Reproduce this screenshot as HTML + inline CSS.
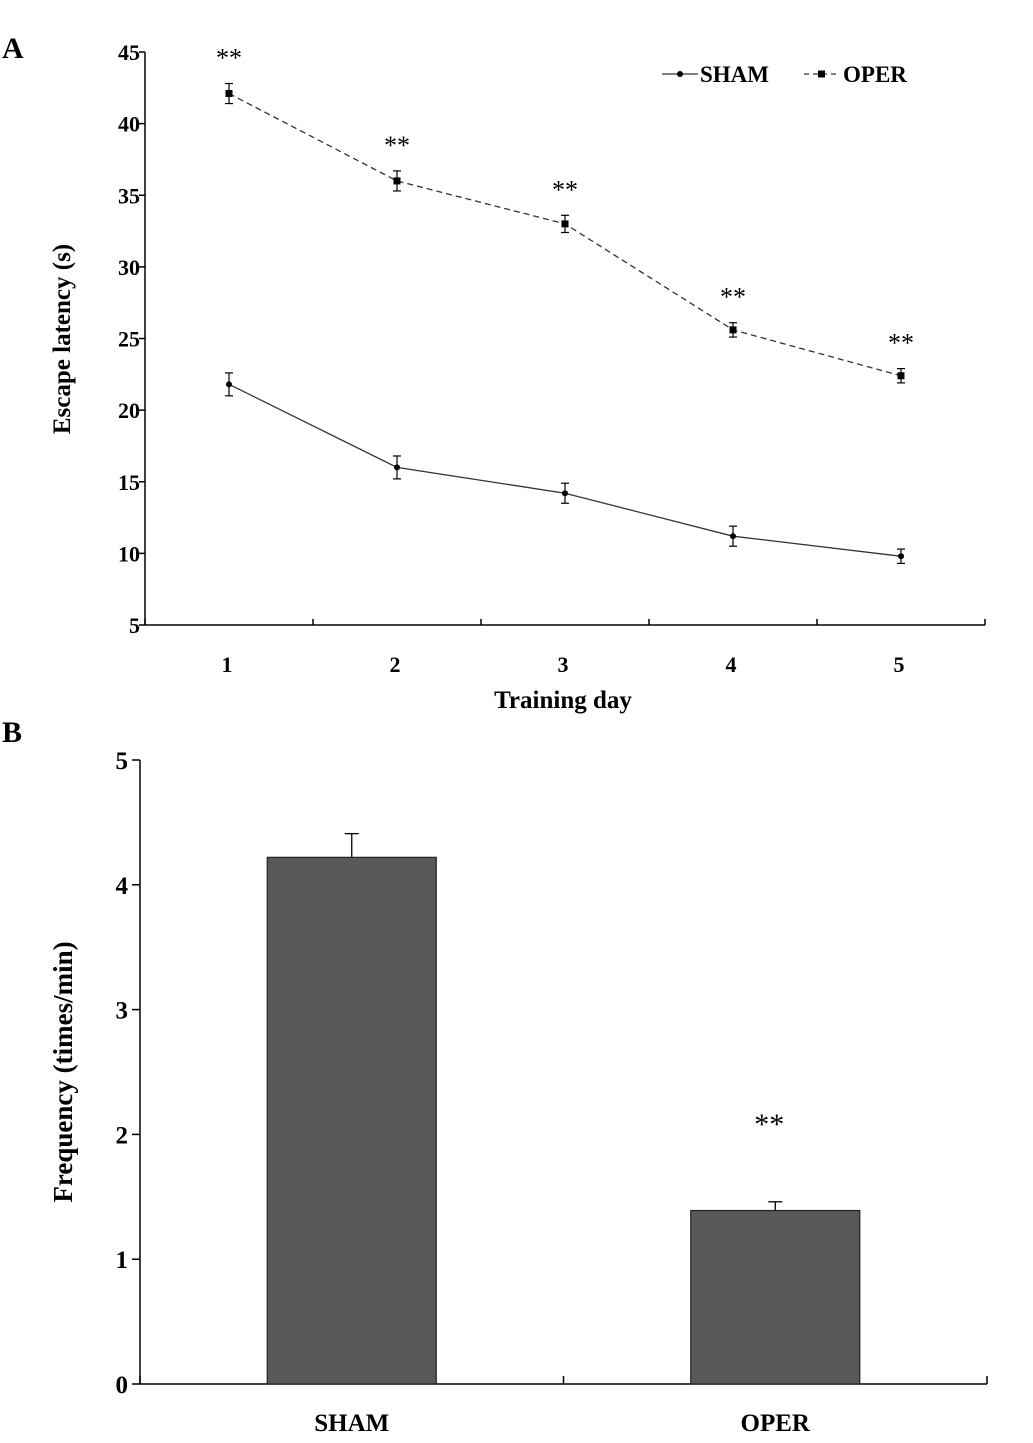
<!DOCTYPE html>
<html><head><meta charset="utf-8"><style>
html,body{margin:0;padding:0;background:#fff;}
svg{display:block;font-family:"Liberation Serif",serif;}
</style></head><body>
<svg id="fig" width="1033" height="1443" viewBox="0 0 1033 1443" xmlns="http://www.w3.org/2000/svg"></svg>
<script>
const days=[1,2,3,4,5];
const shamVals=[21.8,16.0,14.2,11.2,9.8];
const shamErr=[0.8,0.8,0.7,0.7,0.5];
const operVals=[42.1,36.0,33.0,25.6,22.4];
const operErr=[0.7,0.7,0.6,0.5,0.5];
const yTicksA=[5,10,15,20,25,30,35,40,45];
const groups=["SHAM","OPER"];
const freqVals=[4.22,1.39];
const freqErr=[0.19,0.07];
const yTicksB=[0,1,2,3,4,5];

const NS="http://www.w3.org/2000/svg";
const svg=document.getElementById('fig');
function el(tag,attrs,parent,text){const e=document.createElementNS(NS,tag);for(const k in attrs)e.setAttribute(k,attrs[k]);if(text!==undefined)e.textContent=text;(parent||svg).appendChild(e);return e;}

const ax0=145,ax1=985,ay0=625,ay1=52;
const yA=v=>ay0-(v-5)/40*(ay0-ay1);
const xA=i=>ax0+(ax1-ax0)/5*(i+0.5);
let g=el('g',{});


let t=el('text',{x:2,y:58,'font-size':30,'font-weight':'bold'},g,'A');

el('line',{x1:ax0,y1:ay1,x2:ax0,y2:ay0,stroke:'#000','stroke-width':1.5},g);
el('line',{x1:ax0,y1:ay0,x2:ax1,y2:ay0,stroke:'#000','stroke-width':1.5},g);
yTicksA.forEach(v=>{const y=yA(v);el('line',{x1:ax0-6,y1:y,x2:ax0,y2:y,stroke:'#000','stroke-width':1.5},g);
 const tt=el('text',{x:ax0-5,y:y+8,'font-size':22,'font-weight':'bold','text-anchor':'end'},g,v);
 });
for(let i=0;i<=5;i++){const x=ax0+(ax1-ax0)/5*i;el('line',{x1:x,y1:ay0,x2:x,y2:ay0-6,stroke:'#000','stroke-width':1.5},g);}
days.forEach((d,i)=>{const tt=el('text',{x:xA(i)-2,y:672,'font-size':22,'font-weight':'bold','text-anchor':'middle'},g,d);
 });
t=el('text',{x:563,y:708,'font-size':25,'font-weight':'bold','text-anchor':'middle'},g,'Training day');

t=el('text',{x:0,y:0,'font-size':25,'font-weight':'bold','text-anchor':'middle',transform:'translate(70,339) rotate(-90)'},g,'Escape latency (s)');

function series(vals,errs,dash,square,name){
 const pts=vals.map((v,i)=>xA(i)+','+yA(v)).join(' ');
 const l=el('polyline',{points:pts,fill:'none',stroke:'#333','stroke-width':1.3,'stroke-dasharray':dash},g);
 
 vals.forEach((v,i)=>{const x=xA(i),y=yA(v),e=errs[i];
  el('line',{x1:x,y1:yA(v+e),x2:x,y2:yA(v-e),stroke:'#000','stroke-width':1.2},g);
  el('line',{x1:x-4,y1:yA(v+e),x2:x+4,y2:yA(v+e),stroke:'#000','stroke-width':1.2},g);
  el('line',{x1:x-4,y1:yA(v-e),x2:x+4,y2:yA(v-e),stroke:'#000','stroke-width':1.2},g);
  const m=square?el('rect',{x:x-3.5,y:y-3.5,width:7,height:7,fill:'#000'},g):el('circle',{cx:x,cy:y,r:3,fill:'#000'},g);
  });
}
series(shamVals,shamErr,'none',false,'sham');
series(operVals,operErr,'6,4',true,'oper');
operVals.forEach((v,i)=>{const tt=el('text',{x:xA(i),y:yA(v+operErr[i])-17,'font-size':26,'text-anchor':'middle'},g,'**');
 });
let lg=el('g',{},g);

el('line',{x1:662,y1:74,x2:698,y2:74,stroke:'#333','stroke-width':1.3},lg);
el('circle',{cx:680,cy:74,r:3,fill:'#000'},lg);
el('text',{x:700,y:82,'font-size':23,'font-weight':'bold'},lg,'SHAM');
el('line',{x1:804,y1:74,x2:840,y2:74,stroke:'#333','stroke-width':1.3,'stroke-dasharray':'5,4'},lg);
el('rect',{x:818,y:70.5,width:7,height:7,fill:'#000'},lg);
el('text',{x:843,y:82,'font-size':23,'font-weight':'bold'},lg,'OPER');

const bx0=140,bx1=987,by0=1384,by1=760;
const yB=v=>by0-v/5*(by0-by1);
const xB=i=>bx0+(bx1-bx0)/2*(i+0.5);
g=el('g',{});

t=el('text',{x:2,y:742,'font-size':30,'font-weight':'bold'},g,'B');

el('line',{x1:bx0,y1:by1,x2:bx0,y2:by0,stroke:'#000','stroke-width':1.5},g);
el('line',{x1:bx0,y1:by0,x2:bx1,y2:by0,stroke:'#000','stroke-width':1.5},g);
yTicksB.forEach(v=>{const y=yB(v);el('line',{x1:bx0-8,y1:y,x2:bx0,y2:y,stroke:'#000','stroke-width':1.5},g);
 const tt=el('text',{x:bx0-12,y:y+9,'font-size':25,'font-weight':'bold','text-anchor':'end'},g,v);
 });
for(let i=0;i<=2;i++){const x=bx0+(bx1-bx0)/2*i;el('line',{x1:x,y1:by0,x2:x,y2:by0-8,stroke:'#000','stroke-width':1.5},g);}
t=el('text',{x:0,y:0,'font-size':27,'font-weight':'bold','text-anchor':'middle',transform:'translate(72,1072) rotate(-90)'},g,'Frequency (times/min)');

const bw=169;
groups.forEach((n,i)=>{const x=xB(i),v=freqVals[i],e=freqErr[i];
 el('line',{x1:x,y1:yB(v),x2:x,y2:yB(v+e),stroke:'#000','stroke-width':1.3},g);
 el('line',{x1:x-7,y1:yB(v+e),x2:x+7,y2:yB(v+e),stroke:'#000','stroke-width':1.3},g);
 const b=el('rect',{x:x-bw/2,y:yB(v),width:bw,height:by0-yB(v),fill:'#595959',stroke:'#222','stroke-width':1.2},g);
 
 const tt=el('text',{x:x,y:1431,'font-size':25,'font-weight':'bold','text-anchor':'middle'},g,n);
 });
t=el('text',{x:xB(1)-6,y:yB(freqVals[1]+freqErr[1])-68,'font-size':30,'text-anchor':'middle'},g,'**');

</script>
</body></html>
